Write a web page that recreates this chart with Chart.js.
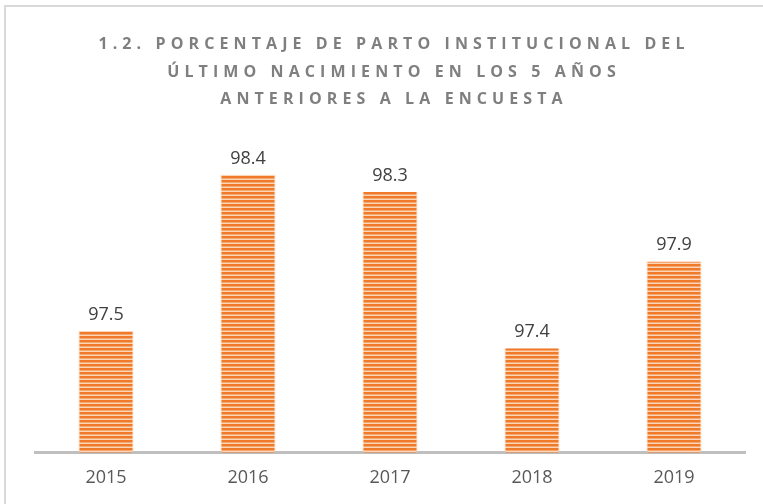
<!DOCTYPE html>
<html>
<head>
<meta charset="utf-8">
<script src="https://cdn.jsdelivr.net/npm/chart.js@4/dist/chart.umd.min.js"></script>
<style>
html,body{margin:0;padding:0;background:#fff;overflow:hidden;}
#wrap{position:relative;width:763px;height:504px;}
#frame{position:absolute;left:4px;top:5px;width:800px;height:600px;border:2px solid #d9d9d9;box-sizing:border-box;}
canvas{position:absolute;left:0;top:0;}
</style>
</head>
<body>
<div id="wrap">
<div id="frame"></div>
<canvas id="c" width="763" height="504"></canvas>
</div>
<script>
const categories = ["2015", "2016", "2017", "2018", "2019"];
const values = [97.5, 98.4, 98.3, 97.4, 97.9];
const titleLines = [
  "1.2. PORCENTAJE DE PARTO INSTITUCIONAL DEL",
  "ÚLTIMO NACIMIENTO EN LOS 5 AÑOS",
  "ANTERIORES A LA ENCUESTA"
];

function makePattern() {
  const p = document.createElement('canvas');
  p.width = 8; p.height = 4;
  const g = p.getContext('2d');
  g.fillStyle = '#EF7B2A'; g.fillRect(0, 0, 8, 2);
  g.fillStyle = '#F5A76F'; g.fillRect(0, 2, 8, 1);
  g.fillStyle = '#FBD5B8'; g.fillRect(0, 3, 8, 1);
  return document.getElementById('c').getContext('2d').createPattern(p, 'repeat');
}

const titlePlugin = {
  id: 'spacedTitle',
  afterDraw(chart) {
    const ctx = chart.ctx;
    ctx.save();
    ctx.font = 'bold 16px "Open Sans"';
    ctx.fillStyle = '#7F7F7F';
    ctx.textAlign = 'center';
    ctx.textBaseline = 'middle';
    try { ctx.letterSpacing = '5.1px'; } catch (e) {}
    const ys = [44, 72, 99];
    titleLines.forEach((t, i) => ctx.fillText(t, 394, ys[i]));
    ctx.restore();
  }
};

const labelPlugin = {
  id: 'valueLabels',
  afterDatasetsDraw(chart) {
    const ctx = chart.ctx;
    const meta = chart.getDatasetMeta(0);
    ctx.save();
    ctx.font = '18px "Open Sans"';
    ctx.fillStyle = '#404040';
    ctx.textAlign = 'center';
    ctx.textBaseline = 'alphabetic';
    meta.data.forEach((bar, i) => {
      ctx.fillText(values[i].toFixed(1), bar.x, bar.y - 11);
    });
    ctx.restore();
  }
};

new Chart(document.getElementById('c'), {
  type: 'bar',
  data: {
    labels: categories,
    datasets: [{
      data: values,
      backgroundColor: makePattern(),
      borderColor: 'rgba(250,200,160,0.9)',
      borderWidth: {left: 1, right: 1, top: 0, bottom: 0},
      borderSkipped: false,
      barPercentage: 0.387,
      categoryPercentage: 1
    }]
  },
  options: {
    responsive: false,
    animation: false,
    layout: { padding: { top: 140, left: 35, right: 18, bottom: 0 } },
    plugins: { legend: { display: false }, tooltip: { enabled: false }, title: { display: false } },
    scales: {
      x: {
        grid: { display: false, drawTicks: false },
        border: { display: true, color: '#BFBFBF', width: 3 },
        ticks: { color: '#595959', font: { family: '"Open Sans"', size: 18 }, padding: 15 }
      },
      y: {
        display: false,
        min: 96.8,
        max: 98.6
      }
    }
  },
  plugins: [titlePlugin, labelPlugin]
});
</script>
</body>
</html>
